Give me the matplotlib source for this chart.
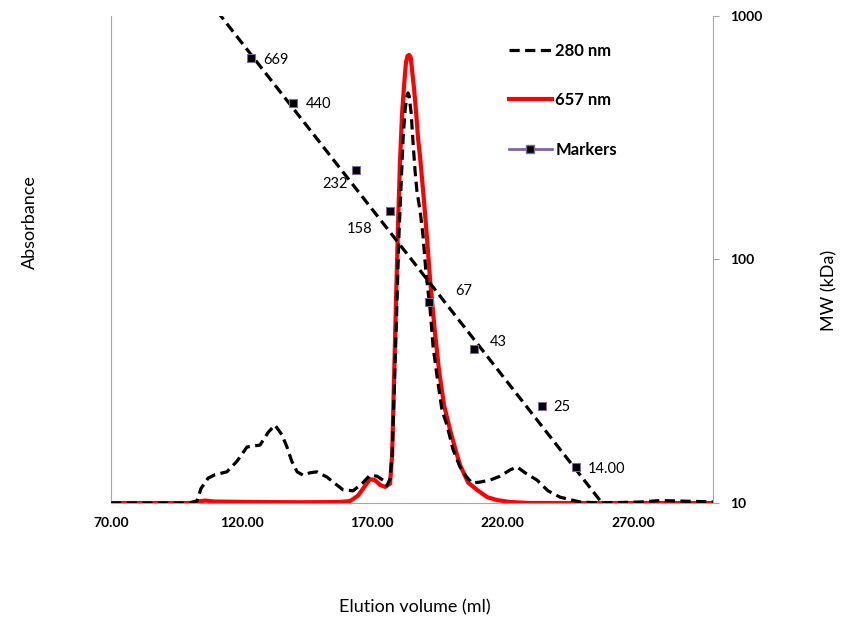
import numpy as np
import matplotlib.pyplot as plt
from matplotlib.lines import Line2D

plt.rcParams['font.family'] = ['Lato', 'DejaVu Sans']

# absorbance traces (elution volume in ml, absorbance in arbitrary units)
vol_280 = [70.0, 100.3, 102.9, 104.5, 107.2, 109.8, 114.4, 118.3, 122.1, 127.1,
           130.2, 132.8, 135.5, 137.4, 139.3, 141.3, 143.6, 146.2, 148.9, 152.8,
           155.8, 158.9, 162.7, 166.2, 169.2, 171.9, 174.2, 175.7, 176.9, 177.7,
           179.2, 180.3, 181.9, 182.7, 183.4, 183.8, 184.2, 185.0, 185.7, 186.5,
           187.2, 188.4, 189.5, 190.7, 192.2, 193.4, 194.9, 196.8, 198.7, 201.0,
           203.7, 206.0, 208.3, 211.4, 215.2, 219.0, 222.9, 225.6, 228.6, 233.2,
           237.4, 242.0, 249.7, 257.4, 272.7, 280.3, 288.0, 295.7, 300.6]
abs_280 = [0.0, 0.0, 0.004, 0.03, 0.051, 0.058, 0.064, 0.086, 0.115, 0.119,
           0.145, 0.16, 0.14, 0.115, 0.085, 0.064, 0.057, 0.062, 0.064, 0.053,
           0.04, 0.027, 0.025, 0.04, 0.057, 0.055, 0.047, 0.035, 0.05, 0.1,
           0.35, 0.55, 0.75, 0.81, 0.836, 0.842, 0.836, 0.8, 0.74, 0.68,
           0.64, 0.6, 0.55, 0.47, 0.40, 0.32, 0.26, 0.19, 0.16, 0.11,
           0.074, 0.055, 0.041, 0.043, 0.047, 0.055, 0.068, 0.074, 0.062, 0.047,
           0.025, 0.012, 0.002, 0.0, 0.002, 0.005, 0.004, 0.003, 0.002]

vol_657 = [70.0, 100.3, 102.9, 106.0, 109.8, 127.1, 142.4, 157.7, 161.6, 164.6,
           167.3, 169.2, 171.1, 173.1, 175.0, 176.9, 177.7, 178.4, 179.2, 180.0,
           180.7, 181.5, 182.3, 183.0, 183.6, 184.2, 184.8, 185.3, 186.1, 186.9,
           187.6, 188.4, 189.9, 191.1, 192.2, 193.4, 194.1, 195.7, 197.6, 199.9,
           202.2, 203.7, 206.8, 210.2, 214.1, 217.9, 222.9, 230.5, 300.6]
abs_657 = [0.0, 0.0, 0.003, 0.005, 0.003, 0.002, 0.0015, 0.002, 0.004, 0.015,
           0.035, 0.049, 0.047, 0.037, 0.033, 0.04, 0.1, 0.25, 0.42, 0.58,
           0.7, 0.8, 0.86, 0.905, 0.918, 0.92, 0.915, 0.89, 0.85, 0.8,
           0.75, 0.71, 0.62, 0.54, 0.46, 0.39, 0.35, 0.27, 0.2, 0.15,
           0.105, 0.078, 0.042, 0.027, 0.012, 0.006, 0.002, 0.0, 0.0]

# calibration markers
marker_vol = [123.6, 139.7, 163.9, 176.9, 191.8, 209.1, 235.1, 248.2]
marker_mw = [669, 440, 232, 158, 67, 43, 25, 14]
marker_txt = ['669', '440', '232', '158', '67', '43', '25', '14.00']
txt_offsets = [(9, -1), (9, -1), (-6, -10), (-13, -13), (19, 8), (11, 5), (8, -1), (8, -1)]
txt_align = ['left', 'left', 'right', 'right', 'left', 'left', 'left', 'left']

# calibration trend line end points
trend_vol = [105.0, 258.1]
trend_mw = [1250, 10]

fig = plt.figure(figsize=(8.44, 6.19), dpi=100)
ax = fig.add_axes([0.1315, 0.1874, 0.7133, 0.7868])
ax2 = ax.twinx()

dash = (3.2, 1.7)
ax.plot(vol_280, abs_280, color='black', lw=2.3, dashes=dash, zorder=3)
ax.plot(vol_657, abs_657, color='#ff0000', lw=3.0, zorder=2)
ax.set_xlim(70, 300.6)
ax.set_ylim(0, 1)
ax.set_yticks([])
ax.set_xticks([70, 120, 170, 220, 270])
ax.set_xticklabels(['70.00', '120.00', '170.00', '220.00', '270.00'],
                   fontsize=10, fontweight='bold')
ax.tick_params(axis='x', length=0, pad=10)
for s in ['top', 'right']:
    ax.spines[s].set_visible(False)
for s in ['left', 'bottom']:
    ax.spines[s].set_color('#a6a6a6')

ax2.set_yscale('log')
ax2.set_ylim(10, 1000)
ax2.plot(trend_vol, trend_mw, color='black', lw=2.3, dashes=dash, zorder=3)
ax2.plot(marker_vol, marker_mw, ls='none', marker='s', ms=5.5,
         mfc='black', mec='#7f6a9a', mew=0.8, zorder=4)
for v, m, t, off, ha in zip(marker_vol, marker_mw, marker_txt, txt_offsets, txt_align):
    ax2.annotate(t, (v, m), xytext=off, textcoords='offset points',
                 ha=ha, va='center', fontsize=10.5)
ax2.set_yticks([10, 100, 1000])
ax2.set_yticklabels(['10', '100', '1000'], fontsize=10, fontweight='bold')
ax2.yaxis.set_minor_locator(plt.NullLocator())
ax2.tick_params(axis='y', length=4, color='#a6a6a6', pad=8)
for s in ['top', 'left', 'bottom']:
    ax2.spines[s].set_visible(False)
ax2.spines['right'].set_color('#a6a6a6')

fig.text(0.036, 0.641, 'Absorbance', rotation=90, fontsize=13, ha='center', va='center')
fig.text(0.983, 0.531, 'MW (kDa)', rotation=90, fontsize=13, ha='center', va='center')
fig.text(0.492, 0.019, 'Elution volume (ml)', fontsize=13, ha='center', va='center')

handles = [Line2D([], [], color='black', lw=2.3, dashes=dash),
           Line2D([], [], color='#ff0000', lw=3.0),
           Line2D([], [], color='#8064a2', lw=2.0, marker='s', ms=5.5,
                  mfc='black', mec='#7f6a9a')]
fig.legend(handles, ['280 nm', '657 nm', 'Markers'], loc='upper left',
           bbox_to_anchor=(0.585, 0.955), frameon=False, labelspacing=2.0,
           handlelength=2.6, handletextpad=0.2, prop={'size': 12, 'weight': 'bold'})

fig.savefig('out.png', dpi=100)
